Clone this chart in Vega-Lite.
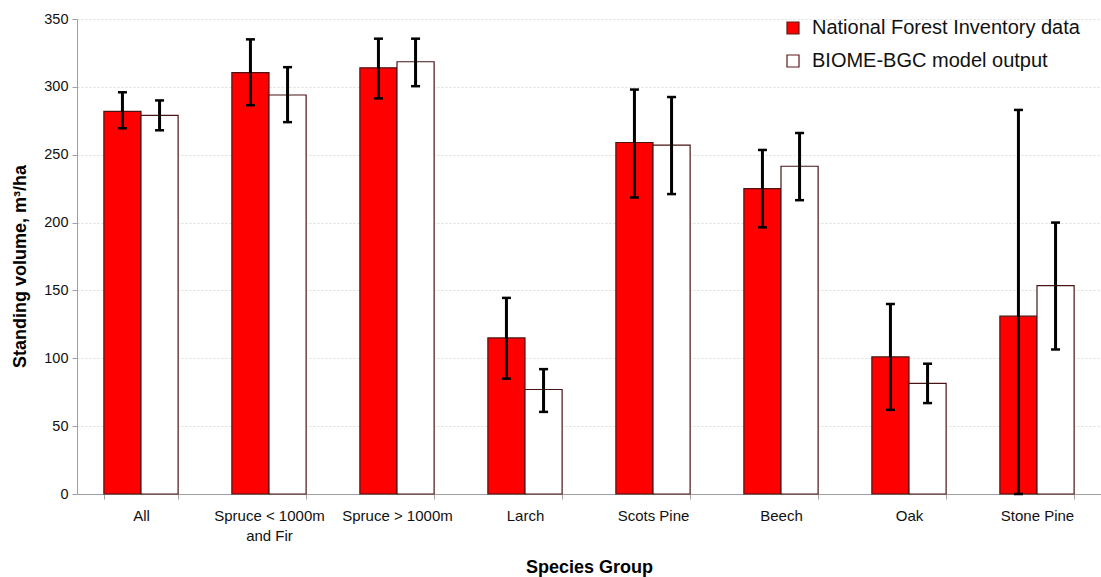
{
  "$schema": "https://vega.github.io/schema/vega-lite/v6.json",
  "width": 1024,
  "height": 475,
  "autosize": {"type": "none"},
  "padding": {"left": 77, "top": 19, "right": 0, "bottom": 83},
  "background": "white",
  "config": {
    "font": "Liberation Sans",
    "view": {"stroke": null}
  },
  "data": {
    "values": [
      {"species": "All", "series": "National Forest Inventory data", "value": 282, "lo": 269.5, "hi": 296},
      {"species": "All", "series": "BIOME-BGC model output", "value": 279, "lo": 268, "hi": 290},
      {"species": "Spruce < 1000m and Fir", "series": "National Forest Inventory data", "value": 310.5, "lo": 286.5, "hi": 335},
      {"species": "Spruce < 1000m and Fir", "series": "BIOME-BGC model output", "value": 294, "lo": 274, "hi": 314.5},
      {"species": "Spruce > 1000m", "series": "National Forest Inventory data", "value": 314, "lo": 291.5, "hi": 335.5},
      {"species": "Spruce > 1000m", "series": "BIOME-BGC model output", "value": 318.5, "lo": 300.5, "hi": 335.5},
      {"species": "Larch", "series": "National Forest Inventory data", "value": 115, "lo": 85, "hi": 144.5},
      {"species": "Larch", "series": "BIOME-BGC model output", "value": 77, "lo": 60.5, "hi": 92},
      {"species": "Scots Pine", "series": "National Forest Inventory data", "value": 259, "lo": 218.5, "hi": 298},
      {"species": "Scots Pine", "series": "BIOME-BGC model output", "value": 257, "lo": 221, "hi": 292.5},
      {"species": "Beech", "series": "National Forest Inventory data", "value": 225, "lo": 196.5, "hi": 253.5},
      {"species": "Beech", "series": "BIOME-BGC model output", "value": 241.5, "lo": 216.5, "hi": 266},
      {"species": "Oak", "series": "National Forest Inventory data", "value": 101, "lo": 62, "hi": 140},
      {"species": "Oak", "series": "BIOME-BGC model output", "value": 81.5, "lo": 67, "hi": 96},
      {"species": "Stone Pine", "series": "National Forest Inventory data", "value": 131, "lo": 0, "hi": 283},
      {"species": "Stone Pine", "series": "BIOME-BGC model output", "value": 153.5, "lo": 106.5, "hi": 200}
    ]
  },
  "encoding": {
    "x": {
      "field": "species",
      "type": "nominal",
      "sort": null,
      "scale": {"paddingInner": 0.42, "paddingOuter": 0.21},
      "axis": {
        "title": "Species Group",
        "titleFont": "Liberation Sans",
        "titleFontSize": 18,
        "titleFontWeight": "bold",
        "titleColor": "#000000",
        "titlePadding": 15,
        "labelAngle": 0,
        "labelFontSize": 15,
        "labelColor": "#111111",
        "labelPadding": 9,
        "labelLimit": 300,
        "labelExpr": "datum.value == 'Spruce < 1000m and Fir' ? ['Spruce < 1000m', 'and Fir'] : datum.value",
        "labelLineHeight": 20,
        "tickBand": "extent",
        "tickSize": 5,
        "tickColor": "#a0a0a0",
        "domainColor": "#a0a0a0",
        "grid": false
      }
    },
    "xOffset": {
      "field": "series",
      "type": "nominal",
      "sort": ["National Forest Inventory data", "BIOME-BGC model output"],
      "scale": {"paddingInner": 0, "paddingOuter": 0}
    }
  },
  "layer": [
    {
      "mark": {"type": "bar", "stroke": "#4a1414", "strokeWidth": 1.2},
      "encoding": {
        "y": {
          "field": "value",
          "type": "quantitative",
          "scale": {"domain": [0, 350], "nice": false},
          "axis": {
            "title": "Standing volume, m³/ha",
            "titleFontSize": 18,
            "titleFontWeight": "bold",
            "titleColor": "#000000",
            "titleX": -57,
            "titleY": 247,
            "titleAlign": "center",
            "titleBaseline": "middle",
            "values": [0, 50, 100, 150, 200, 250, 300, 350],
            "labelFontSize": 14.5,
            "labelColor": "#111111",
            "labelPadding": 4,
            "tickSize": 5,
            "tickColor": "#a0a0a0",
            "domainColor": "#a0a0a0",
            "grid": true,
            "gridColor": "#dcdcdc",
            "gridDash": [2, 2],
            "gridWidth": 1
          }
        },
        "fill": {
          "field": "series",
          "type": "nominal",
          "sort": ["National Forest Inventory data", "BIOME-BGC model output"],
          "scale": {"domain": ["National Forest Inventory data", "BIOME-BGC model output"], "range": ["#ff0000", "#ffffff"]},
          "legend": {
            "title": null,
            "orient": "none",
            "legendX": 706,
            "legendY": -1,
            "padding": 0,
            "symbolType": "square",
            "symbolSize": 144,
            "symbolStrokeColor": "#5a1a1a",
            "symbolStrokeWidth": 1.2,
            "symbolOpacity": 1,
            "labelFontSize": 20,
            "labelColor": "#111111",
            "labelLimit": 400,
            "labelOffset": 9,
            "rowPadding": 13
          }
        }
      }
    },
    {
      "mark": {"type": "rule", "color": "#000000", "strokeWidth": 3},
      "encoding": {
        "y": {"field": "lo", "type": "quantitative"},
        "y2": {"field": "hi"}
      }
    },
    {
      "mark": {"type": "tick", "color": "#000000", "size": 9, "thickness": 2.5, "opacity": 1},
      "encoding": {
        "y": {"field": "lo", "type": "quantitative"}
      }
    },
    {
      "mark": {"type": "tick", "color": "#000000", "size": 9, "thickness": 2.5, "opacity": 1},
      "encoding": {
        "y": {"field": "hi", "type": "quantitative"}
      }
    }
  ]
}
